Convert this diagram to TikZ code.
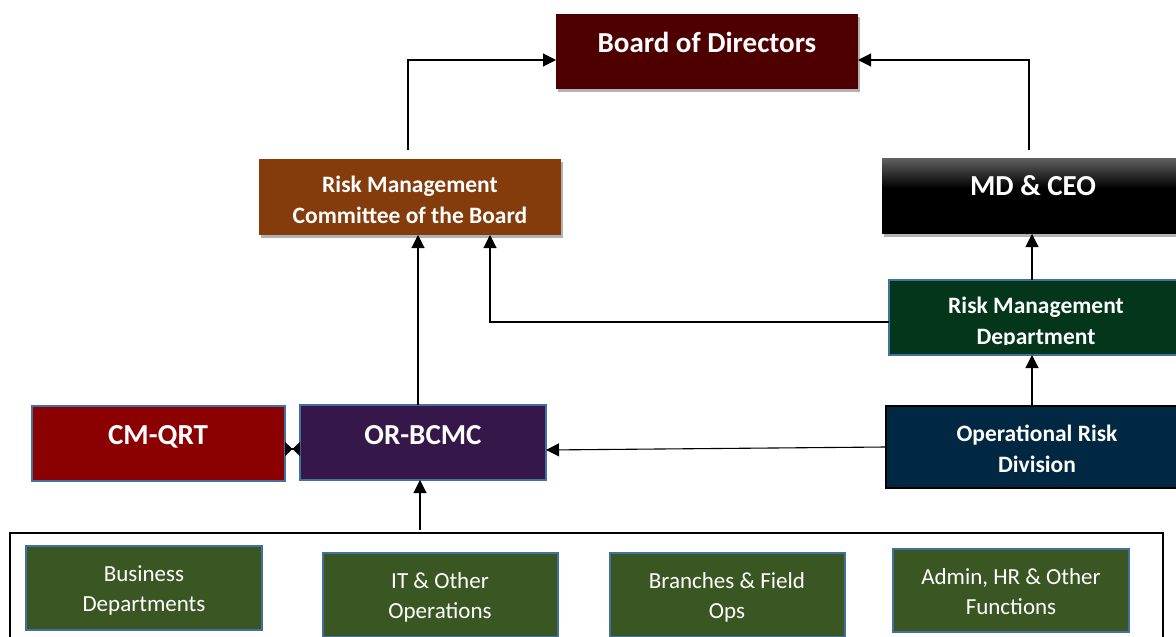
\documentclass[tikz,border=0pt]{standalone}
\usepackage{fontspec}
\setmainfont{Carlito}
\usetikzlibrary{arrows.meta,shadows}

\definecolor{boardred}{HTML}{4E0000}
\definecolor{rmcbrown}{HTML}{843C0C}
\definecolor{rmdgreen}{HTML}{03361B}
\definecolor{cmqred}{HTML}{8B0000}
\definecolor{orpurple}{HTML}{36174A}
\definecolor{ordnavy}{HTML}{002843}
\definecolor{unitgreen}{HTML}{3A5723}
\definecolor{edgeblue}{HTML}{41719C}

\begin{document}
\begin{tikzpicture}[x=1pt,y=-1pt,
  box/.style={inner sep=0pt, outer sep=0pt, anchor=north west},
  shadowed/.style={drop shadow={shadow xshift=2pt, shadow yshift=-3pt, fill=black, opacity=0.3}},
  edged/.style={draw=edgeblue, line width=1.8pt},
  title/.style={text=white, font=\bfseries\fontsize{29}{35}\selectfont, anchor=base, inner sep=0pt},
  head/.style={text=white, font=\bfseries\fontsize{23.5}{30.5}\selectfont, align=center, anchor=base, inner sep=0pt},
  unit/.style={text=white, font=\fontsize{23}{30}\selectfont, align=center, anchor=base, inner sep=0pt},
  arr/.style={line width=1.1pt, -{Triangle[length=13pt,width=13pt]}},
  link/.style={line width=1.1pt},
]
\useasboundingbox (0,0) rectangle (1176,637);
\clip (0,0) rectangle (1176,637);

% guide coordinates for the vertical connectors
\coordinate (colL) at (408,150);
\coordinate (colR) at (1029,150);
\coordinate (colC) at (1032,0);
\coordinate (colM) at (490,0);
\coordinate (colO) at (418,0);
\coordinate (colB) at (420,0);
\coordinate (rowQ) at (0,449);

% top levels (multi-line labels are placed by their last baseline)
\node[box, fill=boardred, shadowed, minimum width=302, minimum height=75] (board) at (556,14) {};
\node[title] (board-t) at (707,52) {Board of Directors};

\node[box, fill=rmcbrown, shadowed, minimum width=302, minimum height=76] (rmcb) at (259,159) {};
\node[head] (rmcb-t) at (410,223) {Risk Management\\Committee of the Board};

\node[box, fill=black, shadowed, minimum width=330, minimum height=76] (mdceo) at (882,158) {};
\shade[top color=black!62, bottom color=black] (mdceo.north west) rectangle ([yshift=-30pt]mdceo.north east);
\node[title] (mdceo-t) at (1033,195) {MD \& CEO};

% risk management department (second line cut by the box)
\node[box, fill=rmdgreen, edged, minimum width=330, minimum height=75] (rmd) at (889,280) {};
\begin{scope}
  \clip (rmd.north west) rectangle ([yshift=11pt]rmd.south east);
  \node[head] (rmd-t) at (1036,344) {Risk Management\\Department};
\end{scope}

% middle level
\node[box, fill=cmqred, edged, minimum width=253, minimum height=75] (cmqrt) at (32,406) {};
\node[title] (cmqrt-t) at (158,444) {CM-QRT};

\node[box, fill=orpurple, edged, minimum width=246, minimum height=75] (orbcmc) at (300,405) {};
\node[title] (orbcmc-t) at (423,444) {OR-BCMC};

\node[box, fill=ordnavy, draw=black, line width=1.8pt, minimum width=330, minimum height=82] (ord) at (886,406) {};
\node[head] (ord-t) at (1037,472) {Operational Risk\\Division};

% operating units
\node[box, draw=black, line width=2pt, minimum width=1153, minimum height=130] (units) at (10,533) {};

\node[box, fill=unitgreen, edged, minimum width=236, minimum height=84] (bus) at (26,546) {};
\node[unit] (bus-t) at (144,611) {Business\\Departments};

\node[box, fill=unitgreen, edged, minimum width=235, minimum height=84] (it) at (323,553) {};
\node[unit] (it-t) at (440,618) {IT \& Other\\Operations};

\node[box, fill=unitgreen, edged, minimum width=235, minimum height=84] (br) at (610,553) {};
\node[unit] (br-t) at (727,618) {Branches \& Field\\Ops};

\node[box, fill=unitgreen, edged, minimum width=236, minimum height=83] (adm) at (893,549) {};
\node[unit] (adm-t) at (1011,614) {Admin, HR \& Other\\Functions};

% connectors
\draw[arr] (colL) |- ([yshift=-8.5pt]board.west);
\draw[arr] (colR) |- ([yshift=-8.5pt]board.east);
\draw[arr] (rmd.north -| colC) -- (mdceo.south -| colC);
\draw[arr] ([yshift=-4.5pt]rmd.west) -| (rmcb.south -| colM);
\draw[arr] (orbcmc.north -| colO) -- (rmcb.south -| colO);
\draw[arr] (ord.west) -- ([yshift=-7.5pt]orbcmc.east);
\draw[arr] (ord.north -| colC) -- (rmd.south -| colC);
\draw[link, {Triangle[reversed,length=7.5pt,width=14pt]}-{Triangle[reversed,length=7.5pt,width=14pt]}]
  (cmqrt.east |- rowQ) -- (orbcmc.west |- rowQ);
\draw[arr] ([yshift=3pt]units.north -| colB) -- (orbcmc.south -| colB);
\end{tikzpicture}
\end{document}
